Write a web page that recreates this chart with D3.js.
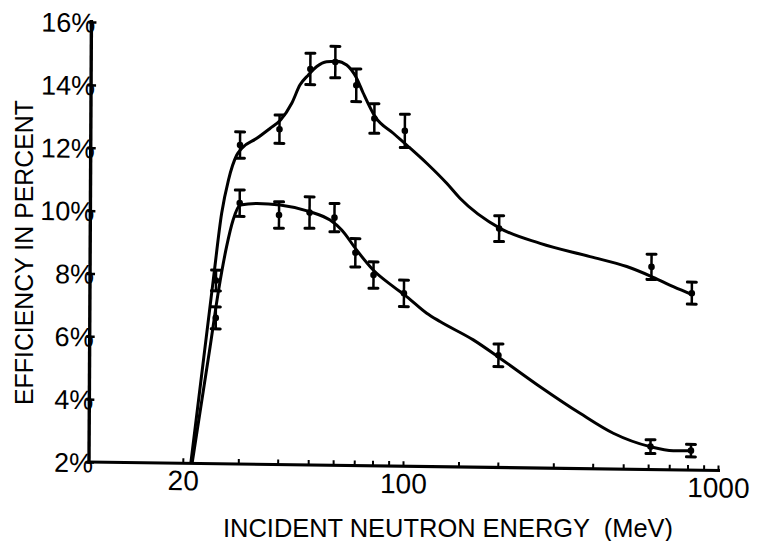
<!DOCTYPE html>
<html>
<head>
<meta charset="utf-8">
<script src="https://cdn.jsdelivr.net/npm/d3@7"></script>
<style>
html,body{margin:0;padding:0;background:#fff;}
svg{display:block;font-family:'Liberation Sans',Arial,sans-serif;}
</style>
</head>
<body>
<svg id="c" width="759" height="541"></svg>
<script>
// ---- data ----
const pointEnergies = [25.3, 30, 40, 50, 60, 70, 80, 100, 200, 610, 820];
const upperEff = [7.83, 12.15, 12.67, 14.6, 14.83, 14.1, 13.05, 12.67, 9.6, 8.45, 7.63];
const upperErr = [0.33, 0.42, 0.45, 0.5, 0.5, 0.52, 0.47, 0.53, 0.41, 0.4, 0.35];
const lowerEff = [6.64, 10.3, 9.94, 10.03, 9.88, 8.77, 8.07, 7.5, 5.57, 2.73, 2.62];
const lowerErr = [0.35, 0.42, 0.42, 0.5, 0.45, 0.45, 0.42, 0.42, 0.36, 0.22, 0.2];

const upperCurveE = [21.2, 24.8, 26.3, 27.6, 29.3, 30.4, 33.9, 37.3, 40.3, 43.7, 46.4, 49.3, 52.4, 56.3, 60.6, 65.2, 70.2, 73.7, 80.4, 91.9, 101.4, 117.5, 136.1, 150, 201.4, 270, 389, 509, 618, 716, 829];
const upperCurveV = [2.0, 7.84, 9.97, 11.03, 11.83, 12.05, 12.37, 12.69, 12.96, 13.5, 14.09, 14.41, 14.68, 14.84, 14.86, 14.74, 14.32, 13.85, 13.11, 12.59, 12.22, 11.65, 11.02, 10.55, 9.61, 9.15, 8.75, 8.45, 8.12, 7.83, 7.57];

const lowerCurveE = [21.4, 24.3, 25.8, 27.3, 28.6, 30.1, 34.0, 40.3, 50.1, 58.1, 63.3, 70.6, 79.8, 92.5, 102, 118.2, 130.3, 166.3, 202.3, 271.5, 364, 464.5, 608, 721, 818];
const lowerCurveV = [2.0, 5.72, 7.53, 8.91, 9.76, 10.24, 10.30, 10.26, 10.06, 9.80, 9.49, 8.86, 8.23, 7.71, 7.40, 6.88, 6.62, 6.05, 5.48, 4.59, 3.76, 3.14, 2.73, 2.61, 2.62];

const xTickValues = [20, 30, 40, 50, 60, 70, 80, 90, 100, 150, 200, 300, 400, 500, 600, 700, 800, 900, 1000];
const xTickLabels = [20, 100, 1000];
const yTickValues = [2, 4, 6, 8, 10, 12, 14, 16];
const xTitle = "INCIDENT NEUTRON ENERGY  (MeV)";
const yTitle = "EFFICIENCY IN PERCENT";

// ---- drawing ----
const svg = d3.select('#c');
svg.append('rect').attr('width', 759).attr('height', 541).attr('fill', '#fff');

const x = d3.scaleLog().domain([10, 1000]).range([88, 718]);
const y = d3.scaleLinear().domain([2, 16]).range([462, 22]);
const ox = 89, oy = 462;
const kx = -0.0055, ky = 0.0135; // slight skew of the scanned page
const skew = (px, py) => [px + kx * (py - oy), py + ky * (px - ox)];

const g = svg.append('g')
  .attr('transform', `translate(${ox},${oy}) matrix(1,${ky},${kx},1,0,0) translate(${-ox},${-oy})`);

// x axis
const xAxis = d3.axisBottom(x)
  .tickValues(xTickValues)
  .tickSizeInner(-5)
  .tickSizeOuter(0)
  .tickFormat(d => xTickLabels.includes(d) ? String(d) : '');
const gx = g.append('g').attr('transform', `translate(0,${y(2)})`).call(xAxis);
gx.select('.domain').remove();
gx.selectAll('.tick line').attr('stroke', '#000').attr('stroke-width', 2);
gx.selectAll('.tick text')
  .attr('y', 27).attr('dy', null)
  .attr('font-size', 28).attr('fill', '#000')
  .attr('font-family', "'Liberation Sans', Arial, sans-serif");

// y axis
const yAxis = d3.axisLeft(y)
  .tickValues(yTickValues)
  .tickSizeOuter(0)
  .tickFormat(d => d + '%');
const gy = g.append('g').attr('transform', `translate(${ox},0)`).call(yAxis);
gy.select('.domain').remove();
gy.selectAll('.tick line').attr('x1', -3).attr('x2', 5).attr('stroke', '#000').attr('stroke-width', 2.5);
gy.selectAll('.tick text')
  .attr('x', 4).attr('dy', null).attr('y', 9.7)
  .attr('text-anchor', 'end')
  .attr('font-size', 27).attr('fill', '#000')
  .attr('font-family', "'Liberation Sans', Arial, sans-serif");

// axis lines (skew applied in JS, drawn un-transformed)
const yA = skew(ox, y(2) + 1.5), yB = skew(ox, y(16) - 2);
svg.append('path')
  .attr('d', `M${yA[0]},${yA[1]}L${yB[0]},${yB[1]}`)
  .attr('stroke', '#000').attr('stroke-width', 3.4).attr('fill', 'none');
const xA = skew(ox - 1.5, y(2)), xB = skew(x(1000) + 2, y(2));
svg.append('path')
  .attr('d', `M${xA[0]},${xA[1]}L${xB[0]},${xB[1]}`)
  .attr('stroke', '#000').attr('stroke-width', 3.2).attr('fill', 'none');

// curves
const line = d3.line().x(d => x(d[0])).y(d => y(d[1])).curve(d3.curveMonotoneX);
g.append('path').datum(d3.zip(upperCurveE, upperCurveV))
  .attr('d', line).attr('fill', 'none').attr('stroke', '#000').attr('stroke-width', 3).attr('stroke-linejoin', 'round');
g.append('path').datum(d3.zip(lowerCurveE, lowerCurveV))
  .attr('d', line).attr('fill', 'none').attr('stroke', '#000').attr('stroke-width', 3).attr('stroke-linejoin', 'round');

// error bars + points
function drawPoints(vals, errs) {
  const data = pointEnergies.map((e, i) => ({e, v: vals[i], err: errs[i]}));
  const pg = g.append('g');
  const grp = pg.selectAll('g').data(data).join('g');
  grp.append('line')
    .attr('x1', d => x(d.e)).attr('x2', d => x(d.e))
    .attr('y1', d => y(d.v - d.err)).attr('y2', d => y(d.v + d.err))
    .attr('stroke', '#000').attr('stroke-width', 2.5);
  [1, -1].forEach(s => {
    grp.append('line')
      .attr('x1', d => x(d.e) - 4.5).attr('x2', d => x(d.e) + 4.5)
      .attr('y1', d => y(d.v + s * d.err)).attr('y2', d => y(d.v + s * d.err))
      .attr('stroke', '#000').attr('stroke-width', 3).attr('stroke-linecap', 'round');
  });
  grp.append('circle')
    .attr('cx', d => x(d.e)).attr('cy', d => y(d.v)).attr('r', 3.3).attr('fill', '#000');
}
drawPoints(upperEff, upperErr);
drawPoints(lowerEff, lowerErr);

// axis titles
svg.append('text')
  .attr('x', 448).attr('y', 536.5)
  .attr('text-anchor', 'middle')
  .attr('font-size', 26).attr('fill', '#000')
  .attr('textLength', 450).attr('lengthAdjust', 'spacingAndGlyphs')
  .style('white-space', 'pre')
  .text(xTitle);

svg.append('text')
  .attr('transform', 'translate(33.3,252.5) rotate(-90)')
  .attr('text-anchor', 'middle')
  .attr('font-size', 25.6).attr('fill', '#000')
  .attr('textLength', 305).attr('lengthAdjust', 'spacingAndGlyphs')
  .text(yTitle);
</script>
</body>
</html>
